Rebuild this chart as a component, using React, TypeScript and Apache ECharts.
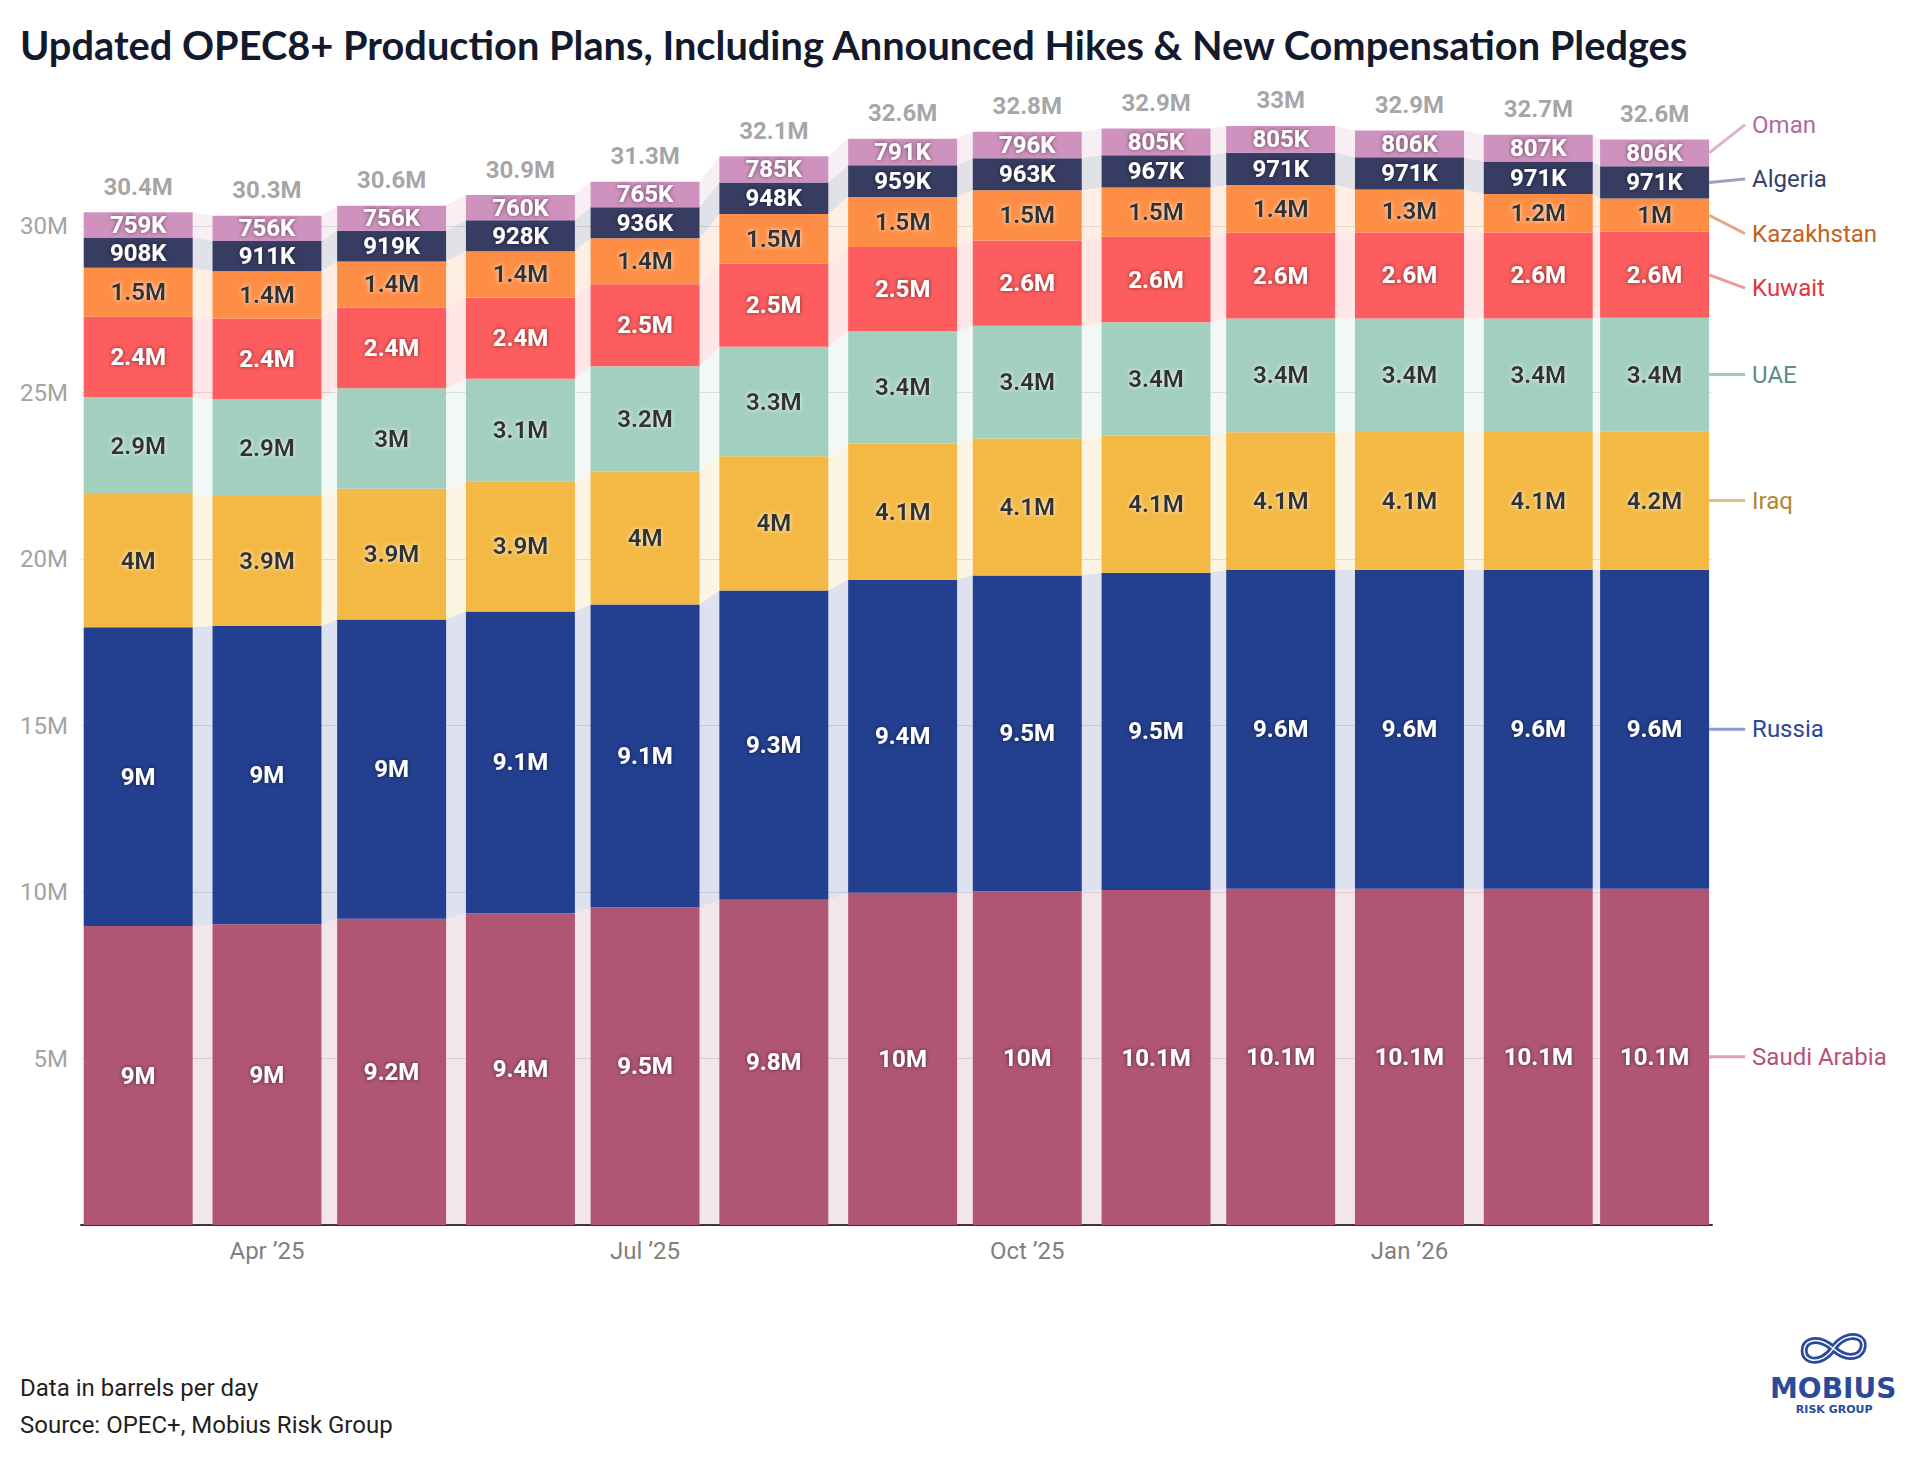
import React, { useEffect, useRef } from "react";
import * as echarts from "echarts";

// ---------- DATA ----------
const months = ["2025-03", "2025-04", "2025-05", "2025-06", "2025-07", "2025-08", "2025-09", "2025-10", "2025-11", "2025-12", "2026-01", "2026-02", "2026-03"];
const countries = ["Saudi Arabia", "Russia", "Iraq", "UAE", "Kuwait", "Kazakhstan", "Algeria", "Oman"];
const saudiArabia = [8.978, 9.034, 9.2, 9.367, 9.534, 9.767, 9.978, 10.02, 10.061, 10.103, 10.103, 10.103, 10.103];
const russia = [8.978, 8.96, 8.99, 9.06, 9.1, 9.29, 9.4, 9.49, 9.53, 9.57, 9.575, 9.575, 9.575];
const iraq = [4.0, 3.9, 3.92, 3.91, 4.0, 4.03, 4.09, 4.11, 4.12, 4.14, 4.14, 4.14, 4.16];
const uae = [2.912, 2.91, 3.02, 3.08, 3.16, 3.29, 3.375, 3.39, 3.4, 3.411, 3.411, 3.411, 3.411];
const kuwait = [2.413, 2.42, 2.43, 2.44, 2.46, 2.5, 2.53, 2.56, 2.57, 2.58, 2.58, 2.58, 2.58];
const kazakhstan = [1.468, 1.42, 1.38, 1.39, 1.38, 1.49, 1.5, 1.51, 1.48, 1.43, 1.29, 1.16, 1.0];
const algeria = [0.908, 0.911, 0.919, 0.928, 0.936, 0.948, 0.959, 0.963, 0.967, 0.971, 0.971, 0.971, 0.971];
const oman = [0.759, 0.756, 0.756, 0.76, 0.765, 0.785, 0.791, 0.796, 0.805, 0.805, 0.806, 0.807, 0.806];
const xTickMonths = ["2025-04", "2025-07", "2025-10", "2026-01"];
const yTicks = [5, 10, 15, 20, 25, 30];

const TITLE = "Updated OPEC8+ Production Plans, Including Announced Hikes & New Compensation Pledges";
const NOTE = "Data in barrels per day";
const SOURCE = "Source: OPEC+, Mobius Risk Group";

// ---------- STYLES ----------
const barColors = ["#b05673", "#233f8f", "#f3b944", "#a3cfbf", "#fd5d5e", "#fe8e45", "#373c62", "#cf92be"];
const labelColors = ["#ffffff", "#ffffff", "#333333", "#333333", "#ffffff", "#333333", "#ffffff", "#ffffff"];
const legendTextColors = ["#b85179", "#2c4599", "#b5842c", "#5e8e80", "#e23542", "#c4621a", "#354070", "#b06aa0"];
const legendLineColors = ["#dca0b8", "#8e9bcf", "#dcc08a", "#a7c4ba", "#f09aa0", "#e3a982", "#9aa1ba", "#dab4cf"];
const BAR_W = 109;
const HW = BAR_W / 2;
const DAY = 86400000;

const seriesValues = [saudiArabia, russia, iraq, uae, kuwait, kazakhstan, algeria, oman];

const toTs = (m: string) => {
  const [y, mo] = m.split("-").map(Number);
  return Date.UTC(y, mo - 1, 1);
};
const dates = months.map(toTs);
const MONTH_NAMES = ["Jan", "Feb", "Mar", "Apr", "May", "Jun", "Jul", "Aug", "Sep", "Oct", "Nov", "Dec"];
const tickKeys = xTickMonths.map((m) => {
  const [y, mo] = m.split("-").map(Number);
  return `${y}-${mo - 1}`;
});

const fmt = (v: number) => {
  if (v < 1) return `${Math.round(v * 1000)}K`;
  const r = Math.round(v * 10) / 10;
  return `${parseFloat(r.toFixed(1))}M`;
};

const hexToRgba = (hex: string, a: number) => {
  const n = parseInt(hex.slice(1), 16);
  return `rgba(${(n >> 16) & 255},${(n >> 8) & 255},${n & 255},${a})`;
};

const LOGO_D =
  "M33 16 C 40 6, 50 2, 58 5 C 66 8, 64 20, 56 23 C 48 26, 40 22, 33 16 C 26 10, 18 6, 10 9 C 2 12, 2 24, 10 27 C 18 30, 28 24, 33 16 Z";
let logoRegistered = false;

export default function App() {
  const ref = useRef<HTMLDivElement>(null);

  useEffect(() => {
    if (!ref.current) return;
    if (!logoRegistered) {
      echarts.graphic.registerShape("mobiusLogo", echarts.graphic.extendPath(LOGO_D, {}) as any);
      logoRegistered = true;
    }
    const chart = echarts.init(ref.current, undefined, { renderer: "svg" });

    // cumulative stack bounds (for connectors and side labels)
    const lower: number[][] = [];
    const upper: number[][] = [];
    seriesValues.forEach((vals, s) => {
      lower.push(vals.map((_, i) => (s === 0 ? 0 : upper[s - 1][i])));
      upper.push(vals.map((v, i) => lower[s][i] + v));
    });
    const totals = dates.map((_, i) => seriesValues.reduce((acc, vals) => acc + vals[i], 0));

    const connectorData: number[][] = [];
    seriesValues.forEach((_, s) => {
      for (let i = 0; i < dates.length - 1; i++) {
        connectorData.push([dates[i], dates[i + 1], lower[s][i], upper[s][i], lower[s][i + 1], upper[s][i + 1], s]);
      }
    });

    const barSeries = countries.map((name, s) => ({
      type: "bar",
      name,
      stack: "total",
      barWidth: BAR_W,
      silent: true,
      z: 3,
      data: dates.map((d, i) => [d, seriesValues[s][i]]),
      itemStyle: { color: barColors[s] },
      label: {
        show: true,
        position: "inside",
        formatter: (p: any) => fmt(p.value[1]),
        fontFamily: "Roboto",
        fontSize: 24,
        fontWeight: "bold",
        color: labelColors[s],
        textShadowColor: labelColors[s] === "#ffffff" ? "rgba(0,0,0,0.55)" : "rgba(255,255,255,0.85)",
        textShadowBlur: 4,
      },
      emphasis: { disabled: true },
    }));

    const last = dates.length - 1;
    const GAP = 54.5;

    const option: any = {
      animation: false,
      backgroundColor: "#ffffff",
      grid: { left: 81, right: 208, top: 93, bottom: 236 },
      xAxis: {
        type: "time",
        min: dates[0] - 0.65 * DAY,
        max: dates[last] + 0.7 * DAY,
        splitNumber: 14,
        axisLine: { show: true, onZero: false, lineStyle: { color: "#333333", width: 2 } },
        axisTick: { show: false },
        splitLine: { show: false },
        axisLabel: {
          showMinLabel: false,
          showMaxLabel: false,
          hideOverlap: false,
          formatter: (v: number) => {
            const d = new Date(v);
            const key = `${d.getUTCFullYear()}-${d.getUTCMonth()}`;
            if (d.getUTCDate() !== 1 || tickKeys.indexOf(key) < 0) return "";
            return `${MONTH_NAMES[d.getUTCMonth()]} \u2019${String(d.getUTCFullYear()).slice(2)}`;
          },
          color: "#808080",
          fontFamily: "Roboto",
          fontSize: 24,
          fontWeight: "normal",
          margin: 14,
        },
      },
      yAxis: {
        type: "value",
        min: 0,
        max: 34,
        interval: 5,
        axisLine: { show: false },
        axisTick: { show: false },
        splitLine: {
          show: true,
          showMinLine: false,
          showMaxLine: false,
          lineStyle: { color: "#e2e2e2", width: 1 },
        },
        axisLabel: {
          showMinLabel: false,
          showMaxLabel: false,
          margin: 13,
          color: "#a3a3a3",
          fontFamily: "Roboto",
          fontSize: 24,
          formatter: (v: number) => (yTicks.indexOf(v) >= 0 ? `${v}M` : ""),
        },
      },
      series: [
        {
          type: "custom",
          name: "connectors",
          silent: true,
          z: 1,
          encode: { x: [0, 1], y: [2, 3, 4, 5] },
          data: connectorData,
          renderItem: (_params: any, api: any) => {
            const t0 = api.value(0);
            const t1 = api.value(1);
            const s = api.value(6);
            const a = api.coord([t0, api.value(3)]);
            const b = api.coord([t0, api.value(2)]);
            const c = api.coord([t1, api.value(5)]);
            const d = api.coord([t1, api.value(4)]);
            return {
              type: "polygon",
              shape: {
                points: [
                  [a[0] + HW, a[1]],
                  [c[0] - HW, c[1]],
                  [d[0] - HW, d[1]],
                  [b[0] + HW, b[1]],
                ],
              },
              style: { fill: hexToRgba(barColors[s], 0.15) },
            };
          },
        },
        ...barSeries,
        {
          type: "scatter",
          name: "totals",
          silent: true,
          symbolSize: 1,
          itemStyle: { color: "rgba(0,0,0,0)" },
          z: 10,
          data: dates.map((d, i) => [d, totals[i]]),
          label: {
            show: true,
            position: "top",
            distance: 13,
            formatter: (p: any) => fmt(p.value[1]),
            fontFamily: "Roboto",
            fontSize: 24,
            fontWeight: "bold",
            color: "#8e8e8e",
          },
          emphasis: { disabled: true },
        },
        {
          type: "custom",
          name: "legendLabels",
          silent: true,
          z: 10,
          encode: { x: 0, y: 1 },
          data: [[dates[last], 0]],
          renderItem: (_params: any, api: any) => {
            const items = countries.map((name, s) => {
              const mid = (lower[s][last] + upper[s][last]) / 2;
              const p = api.coord([dates[last], mid]);
              return { s, name, x: p[0] + HW, y: p[1] };
            });
            items.sort((a, b) => a.y - b.y);
            const clusters: any[] = [];
            const place = (cl: any) => {
              const mean = cl.members.reduce((acc: number, m: any) => acc + m.y, 0) / cl.members.length;
              cl.start = mean - ((cl.members.length - 1) * GAP) / 2;
            };
            items.forEach((it) => {
              const cl: any = { members: [it], start: it.y };
              place(cl);
              clusters.push(cl);
              while (clusters.length > 1) {
                const cur = clusters[clusters.length - 1];
                const prev = clusters[clusters.length - 2];
                if (prev.start + prev.members.length * GAP > cur.start) {
                  prev.members = prev.members.concat(cur.members);
                  clusters.pop();
                  place(prev);
                } else break;
              }
            });
            const children: any[] = [];
            clusters.forEach((cl: any) => {
              cl.members.forEach((m: any, k: number) => {
                const ly = cl.start + k * GAP;
                children.push({
                  type: "line",
                  shape: { x1: m.x, y1: m.y, x2: m.x + 36, y2: ly },
                  style: { stroke: legendLineColors[m.s], lineWidth: 3 },
                });
                children.push({
                  type: "text",
                  x: m.x + 43,
                  y: ly,
                  style: {
                    text: m.name,
                    fill: legendTextColors[m.s],
                    fontFamily: "Roboto",
                    fontSize: 24,
                    align: "left",
                    verticalAlign: "middle",
                  },
                });
              });
            });
            return { type: "group", children };
          },
        },
      ],
      graphic: [
        {
          type: "text",
          left: 20,
          top: 24,
          style: {
            text: TITLE,
            fill: "#141a2e",
            fontFamily: "Lato",
            fontWeight: "bold",
            fontSize: 39.75,
          },
        },
        {
          type: "text",
          left: 20,
          top: 1376,
          style: { text: NOTE, fill: "#1f1f1f", fontFamily: "Roboto", fontSize: 24 },
        },
        {
          type: "text",
          left: 20,
          top: 1413,
          style: { text: SOURCE, fill: "#1f1f1f", fontFamily: "Roboto", fontSize: 24 },
        },
        {
          type: "group",
          left: 1770,
          top: 1333,
          children: [
            {
              type: "mobiusLogo",
              x: 31,
              y: 2,
              shape: {},
              style: { fill: "none", stroke: "#2a4a9b", lineWidth: 7 },
            },
            {
              type: "mobiusLogo",
              x: 31,
              y: 2,
              shape: {},
              style: { fill: "none", stroke: "#ffffff", lineWidth: 1.5 },
            },
            {
              type: "text",
              x: 64,
              y: 58,
              style: {
                text: "MOBIUS",
                fill: "#2a4a9b",
                fontFamily: "DejaVu Sans",
                fontWeight: "bold",
                fontSize: 28,
                align: "center",
                verticalAlign: "middle",
              },
            },
            {
              type: "text",
              x: 65,
              y: 79,
              style: {
                text: "RISK GROUP",
                fill: "#2a4a9b",
                fontFamily: "DejaVu Sans",
                fontWeight: "bold",
                fontSize: 11,
                align: "center",
                verticalAlign: "middle",
              },
            },
          ],
        },
      ],
    };

    chart.setOption(option);
    return () => chart.dispose();
  }, []);

  return (
    <div
      ref={ref}
      style={{ position: "absolute", left: 0, top: 0, width: 1920, height: 1461, background: "#ffffff" }}
    />
  );
}
